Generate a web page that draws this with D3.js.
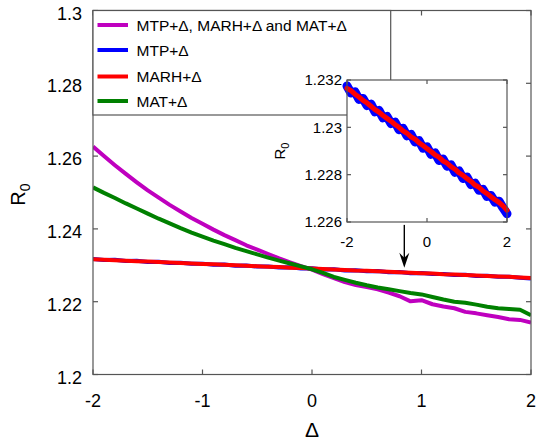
<!DOCTYPE html>
<html>
<head>
<meta charset="utf-8">
<script src="https://cdn.jsdelivr.net/npm/d3@7/dist/d3.min.js"></script>
<style>
  body { margin: 0; background: #fff; }
  text { font-family: "Liberation Sans", Arial, sans-serif; fill: #000; }
</style>
</head>
<body>
<div id="chart"></div>
<script>
// x values (Delta), step 0.1
const delta = [-2.0,-1.9,-1.8,-1.7,-1.6,-1.5,-1.4,-1.3,-1.2,-1.1,-1.0,-0.9,-0.8,-0.7,-0.6,-0.5,-0.4,-0.3,-0.2,-0.1,
  0.0,0.1,0.2,0.3,0.4,0.5,0.6,0.7,0.8,0.9,1.0,1.1,1.2,1.3,1.4,1.5,1.6,1.7,1.8,1.9,2.0];

// R0 for each scenario
const allThree = [1.2626,1.2600,1.2575,1.2551,1.2528,1.2506,1.2486,1.2466,1.2448,1.2430,1.2414,1.2398,1.2383,1.2369,1.2355,1.2343,1.2331,1.2319,1.2308,1.2298,
  1.2288,1.2276,1.2265,1.2254,1.2246,1.2240,1.2234,1.2225,1.2215,1.2201,1.2204,1.2193,1.2187,1.2182,1.2172,1.2168,1.2163,1.2158,1.2152,1.2150,1.2143];
const mtp = [1.23175,1.23145,1.23150,1.23118,1.23122,1.23092,1.23098,1.23065,1.23072,1.23040,1.23046,1.23016,1.23022,1.22990,1.22996,1.22964,1.22970,1.22938,1.22944,1.22912,
  1.22918,1.22886,1.22892,1.22860,1.22866,1.22836,1.22842,1.22810,1.22816,1.22784,1.22790,1.22758,1.22764,1.22734,1.22738,1.22708,1.22712,1.22684,1.22688,1.22660,1.22635];
const marh = [1.23165,1.23155,1.23140,1.23128,1.23114,1.23103,1.23089,1.23075,1.23064,1.23050,1.23038,1.23026,1.23012,1.23000,1.22985,1.22975,1.22960,1.22950,1.22935,1.22923,
  1.22910,1.22898,1.22884,1.22874,1.22858,1.22849,1.22834,1.22823,1.22808,1.22797,1.22783,1.22772,1.22756,1.22747,1.22731,1.22720,1.22707,1.22694,1.22683,1.22668,1.22650];
const mat = [1.2514,1.2499,1.2485,1.2470,1.2456,1.2442,1.2428,1.2415,1.2402,1.2390,1.2379,1.2368,1.2358,1.2348,1.2339,1.2330,1.2321,1.2313,1.2305,1.2297,
  1.2289,1.2279,1.2268,1.2260,1.2252,1.2245,1.2239,1.2234,1.2229,1.2224,1.2220,1.2213,1.2206,1.2200,1.2197,1.2192,1.2186,1.2182,1.2180,1.2178,1.2163];

const seriesNames = ["MTP+\u0394, MARH+\u0394 and MAT+\u0394", "MTP+\u0394", "MARH+\u0394", "MAT+\u0394"];
const seriesColors = ["#bf00bf", "#0000ff", "#ff0000", "#008000"];
const seriesValues = [allThree, mtp, marh, mat];

const xTicks = [-2, -1, 0, 1, 2];
const yTicks = [1.2, 1.22, 1.24, 1.26, 1.28, 1.3];
const insetXTicks = [-2, 0, 2];
const insetYTicks = [1.226, 1.228, 1.23, 1.232];

// arrow pointing at the MTP/MARH lines: [delta, from R0, to R0]
const arrow = [0.843, 1.2411, 1.2293];

const W = 540, H = 441;
const main = { left: 93, right: 531, top: 10.5, bottom: 374.5 };
const ins = { left: 347, right: 507, top: 80, bottom: 222 };
const axisColor = "#555";

const svg = d3.select("#chart").append("svg")
  .attr("width", W).attr("height", H);

const x = d3.scaleLinear().domain([-2, 2]).range([main.left, main.right]);
const y = d3.scaleLinear().domain([1.2, 1.3]).range([main.bottom, main.top]);

const defs = svg.append("defs");
defs.append("clipPath").attr("id", "clipMain").append("rect")
  .attr("x", main.left).attr("y", main.top)
  .attr("width", main.right - main.left).attr("height", main.bottom - main.top);

// ---- main lines
const lineMain = vals => d3.line()
  .x((d, i) => x(delta[i]))
  .y(d => y(d))(vals);

const gLines = svg.append("g").attr("clip-path", "url(#clipMain)");
seriesValues.forEach((vals, i) => {
  gLines.append("path")
    .attr("d", lineMain(vals))
    .attr("fill", "none")
    .attr("stroke", seriesColors[i])
    .attr("stroke-width", 4)
    .attr("stroke-linejoin", "round");
});

// ---- box with inward ticks on all sides
function drawBox(g, r, xs, ys, xt, yt, tl) {
  g.append("rect")
    .attr("x", r.left).attr("y", r.top)
    .attr("width", r.right - r.left).attr("height", r.bottom - r.top)
    .attr("fill", "none").attr("stroke", axisColor).attr("stroke-width", 1.2);
  xt.forEach(t => {
    g.append("line").attr("x1", xs(t)).attr("x2", xs(t)).attr("y1", r.bottom).attr("y2", r.bottom - tl)
      .attr("stroke", axisColor).attr("stroke-width", 1.2);
    g.append("line").attr("x1", xs(t)).attr("x2", xs(t)).attr("y1", r.top).attr("y2", r.top + tl)
      .attr("stroke", axisColor).attr("stroke-width", 1.2);
  });
  yt.forEach(t => {
    g.append("line").attr("x1", r.left).attr("x2", r.left + tl).attr("y1", ys(t)).attr("y2", ys(t))
      .attr("stroke", axisColor).attr("stroke-width", 1.2);
    g.append("line").attr("x1", r.right).attr("x2", r.right - tl).attr("y1", ys(t)).attr("y2", ys(t))
      .attr("stroke", axisColor).attr("stroke-width", 1.2);
  });
}
const gAxes = svg.append("g");
drawBox(gAxes, main, x, y, xTicks, yTicks, 5);

gAxes.selectAll(".ylab").data(yTicks).enter().append("text")
  .attr("x", main.left - 11).attr("y", d => y(d)).attr("dy", "0.5em")
  .attr("text-anchor", "end").attr("font-size", 18)
  .text(d => String(+d.toFixed(2)));
gAxes.selectAll(".xlab").data(xTicks).enter().append("text")
  .attr("x", d => x(d)).attr("y", main.bottom + 32)
  .attr("text-anchor", "middle").attr("font-size", 18)
  .text(d => String(d));

svg.append("text")
  .attr("x", x(0)).attr("y", 437)
  .attr("text-anchor", "middle").attr("font-size", 21)
  .text("\u0394");

const yLab = svg.append("text")
  .attr("transform", `translate(25,${(main.top + main.bottom) / 2 + 2}) rotate(-90)`)
  .attr("text-anchor", "middle").attr("font-size", 20);
yLab.append("tspan").text("R");
yLab.append("tspan").attr("font-size", 14).attr("dy", 5).text("0");

// ---- legend
const leg = svg.append("g");
leg.append("rect")
  .attr("x", main.left).attr("y", main.top)
  .attr("width", 390.7 - main.left).attr("height", 115 - main.top)
  .attr("fill", "#fff").attr("stroke", axisColor).attr("stroke-width", 1.2);
const legRows = [25, 50, 76.5, 101];
seriesNames.forEach((name, i) => {
  leg.append("line")
    .attr("x1", 97.5).attr("x2", 128).attr("y1", legRows[i]).attr("y2", legRows[i])
    .attr("stroke", seriesColors[i]).attr("stroke-width", 4);
  leg.append("text")
    .attr("x", 136.5).attr("y", legRows[i]).attr("dy", "0.36em")
    .attr("font-size", 15.5)
    .text(name);
});

// ---- arrow
const ax = x(arrow[0]), ay0 = y(arrow[1]), ay1 = y(arrow[2]);
svg.append("line")
  .attr("x1", ax).attr("x2", ax).attr("y1", ay0).attr("y2", ay1 - 8)
  .attr("stroke", "#000").attr("stroke-width", 1.4);
svg.append("path")
  .attr("d", `M${ax},${ay1} L${ax - 5},${ay1 - 15} L${ax},${ay1 - 10} L${ax + 5},${ay1 - 15} Z`)
  .attr("fill", "#000");

// ---- inset
const xi = d3.scaleLinear().domain([-2, 2]).range([ins.left, ins.right]);
const yi = d3.scaleLinear().domain([1.226, 1.232]).range([ins.bottom, ins.top]);

const gIns = svg.append("g");
gIns.append("rect")
  .attr("x", ins.left).attr("y", ins.top)
  .attr("width", ins.right - ins.left).attr("height", ins.bottom - ins.top)
  .attr("fill", "#fff");

const lineInset = vals => d3.line()
  .x((d, i) => xi(delta[i]))
  .y(d => yi(d))(vals);

const gInsLines = gIns.append("g");
gInsLines.append("path")
  .attr("d", lineInset(mtp))
  .attr("fill", "none").attr("stroke", seriesColors[1])
  .attr("stroke-width", 9).attr("stroke-linejoin", "round").attr("stroke-linecap", "round");
gInsLines.append("path")
  .attr("d", lineInset(marh))
  .attr("fill", "none").attr("stroke", seriesColors[2])
  .attr("stroke-width", 5).attr("stroke-linejoin", "round").attr("stroke-linecap", "round");

drawBox(gIns, ins, xi, yi, insetXTicks, insetYTicks, 4);

gIns.selectAll(".iylab").data(insetYTicks).enter().append("text")
  .attr("x", ins.left - 5).attr("y", d => yi(d)).attr("dy", "0.36em")
  .attr("text-anchor", "end").attr("font-size", 15)
  .text(d => String(+d.toFixed(3)));
gIns.selectAll(".ixlab").data(insetXTicks).enter().append("text")
  .attr("x", d => xi(d)).attr("y", ins.bottom + 25)
  .attr("text-anchor", "middle").attr("font-size", 15)
  .text(d => String(d));

const yLabI = gIns.append("text")
  .attr("transform", `translate(285,${(ins.top + ins.bottom) / 2}) rotate(-90)`)
  .attr("text-anchor", "middle").attr("font-size", 15);
yLabI.append("tspan").text("R");
yLabI.append("tspan").attr("font-size", 11).attr("dy", 4).text("0");
</script>
</body>
</html>
